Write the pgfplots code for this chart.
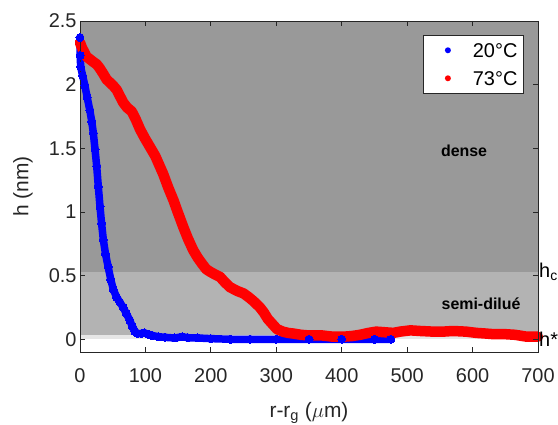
\documentclass[border=0pt]{standalone}
\usepackage{fontspec}
\setmainfont{Liberation Sans}
\usepackage{pgfplots}
\pgfplotsset{compat=1.18}
\definecolor{axgray}{RGB}{38,38,38}
\definecolor{densegray}{RGB}{153,153,153}
\definecolor{semigray}{RGB}{179,179,179}
\definecolor{lightband}{RGB}{230,230,230}
\definecolor{mblue}{RGB}{0,0,255}
\definecolor{mred}{RGB}{255,0,0}
\begin{document}
\begin{tikzpicture}
\begin{axis}[
  scale only axis, width=458bp, height=331bp,
  xmin=0, xmax=700, ymin=-0.1, ymax=2.5,
  xtick={0,100,...,700}, ytick={0,0.5,1,1.5,2,2.5},
  tick align=inside, major tick length=5bp,
  axis on top, clip=false,
  axis line style={axgray, line width=0.75bp},
  every tick/.style={axgray, line width=0.75bp},
  /pgf/number format/assume math mode=true,
  tick label style={font=\fontsize{20}{24}\selectfont, text=axgray},
  xticklabel style={anchor=base, yshift=-30bp},
  label style={font=\fontsize{21}{25}\selectfont, text=axgray},
  xlabel={r-r\textsubscript{g} ($\mu$m)},
  ylabel={h (nm)},
  xlabel style={at={(axis description cs:0.5,0)}, anchor=base, yshift=-65bp},
  ylabel style={at={(axis description cs:-0.1245,0.5)}, anchor=center},
  legend style={at={(rel axis cs:0.969,0.958)}, anchor=north east,
    draw=axgray, line width=0.75bp, fill=white,
    font=\fontsize{20}{24}\selectfont, row sep=9.5bp,
    inner xsep=4bp, inner ysep=5.75bp,
    nodes={inner sep=2bp, text height=14.5bp, text depth=0bp}},
  legend cell align=left,
  legend image code/.code={%
    \path[draw=none, fill=none] (0bp,-7bp) rectangle (44bp,7bp);
    \fill[#1, draw=none] (21bp,0bp) circle[radius=3bp];
  },
]
\fill[densegray] (axis cs:0,0.53) rectangle (axis cs:700,2.5);
\fill[semigray] (axis cs:0,0.035) rectangle (axis cs:700,0.53);
\fill[lightband] (axis cs:0,0) rectangle (axis cs:700,0.035);

\addlegendimage{mblue}
\addlegendentry{20°C}
\addlegendimage{mred}
\addlegendentry{73°C}

% 20 C
\addplot[forget plot, mblue, line width=7.5bp, line cap=round, line join=round,
  mark=*, mark size=4bp, mark options={line width=0pt}] coordinates {
(0,2.37) (0.3,2.23) (1,2.14) (4,2.07) (7.6,1.99) (11,1.90) (15,1.80) (18,1.71)
(20.4,1.62) (23,1.49) (25.5,1.36) (28,1.20) (30.6,1.04) (33,0.91) (35.7,0.78)
(39,0.67) (43,0.57) (47,0.47) (51,0.39) (56,0.33) (61,0.29) (66,0.25) (71,0.20)
(76,0.15) (80,0.10) (84,0.06) (88,0.045) (94,0.045) (98,0.05) (104,0.04)
(110,0.03) (120,0.02) (130,0.015) (145,0.01) (156,0.02) (165,0.012) (180,0.01)
(200,0.005) (230,0.0) (260,0.0) (300,0.0) (350,0.0) (400,0.0) (450,0.0) (475,0.0)
};

% 73 C
\addplot[forget plot, mred, line width=10.5bp, line cap=round, line join=round] coordinates {
(0,2.33) (3,2.29) (6,2.26) (10,2.22) (15,2.20) (20,2.18) (25.5,2.16) (30,2.13)
(35,2.09) (40.8,2.04) (45,2.02) (51,1.99) (56,1.96) (61,1.91) (66,1.86) (72,1.82)
(79,1.79) (85,1.73) (91.7,1.65) (99,1.58) (107,1.51) (115,1.44) (121,1.37)
(127,1.30) (135,1.19) (143,1.09) (150,0.99) (158,0.88) (165,0.79) (173,0.70)
(180,0.64) (187,0.59) (193,0.55) (199,0.53) (206,0.51) (214,0.49) (221,0.45)
(229,0.41) (240,0.38) (250,0.36) (258,0.33) (265,0.30) (275,0.25) (281,0.21)
(287,0.16) (294,0.12) (301,0.08) (310,0.06) (318,0.05) (326,0.045) (338,0.035)
(350,0.03) (370,0.03) (387,0.02) (402,0.02) (415,0.025) (428,0.035) (441,0.05)
(453,0.06) (466,0.055) (479,0.05) (489,0.06) (505,0.07) (520,0.065) (540,0.06)
(555,0.06) (570,0.065) (590,0.06) (606,0.05) (620,0.045) (632,0.04) (650,0.04)
(665,0.035) (683,0.02) (700,0.02)
};

\node[font=\bfseries\fontsize{16}{19}\selectfont] at (axis cs:587,1.48) {dense};
\node[font=\bfseries\fontsize{16}{19}\selectfont] at (axis cs:613,0.28) {semi-dilué};
\node[anchor=west, font=\fontsize{20}{24}\selectfont, text=black, inner sep=1bp] at (axis cs:700,0.53) {h\textsubscript{c}};
\node[anchor=west, font=\fontsize{20}{24}\selectfont, text=black, inner sep=1bp] at (axis cs:700,0) {h*};

\coordinate (sw) at (rel axis cs:0,0);
\coordinate (ne) at (rel axis cs:1,1);
\end{axis}
\pgfresetboundingbox
\path[use as bounding box] ([shift={(-80bp,-73bp)}]sw) rectangle ([shift={(20bp,21bp)}]ne);
\end{tikzpicture}
\end{document}
